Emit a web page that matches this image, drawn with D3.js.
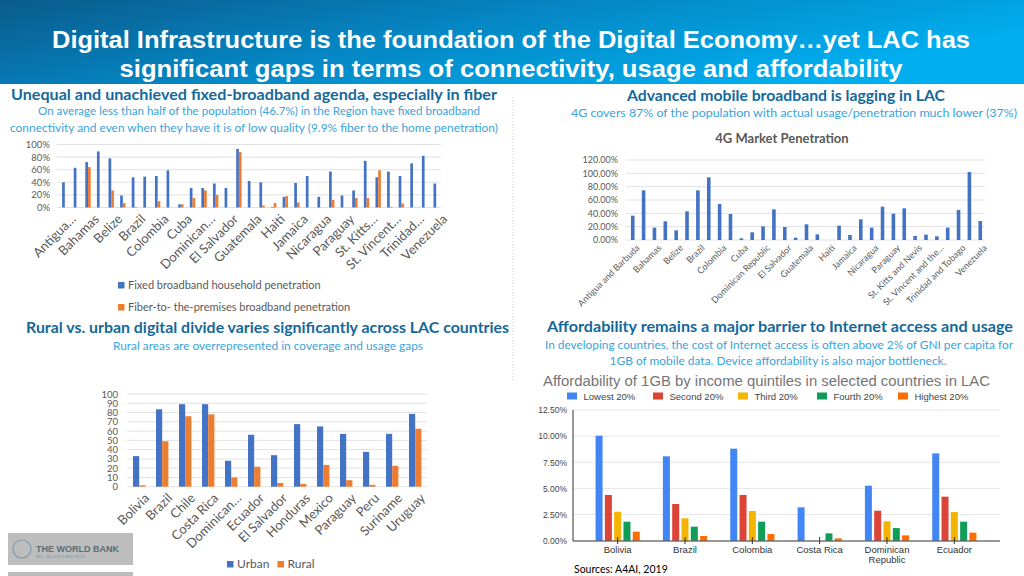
<!DOCTYPE html>
<html><head><meta charset="utf-8">
<script src="https://cdn.jsdelivr.net/npm/d3@7"></script>
<style>body{margin:0;background:#fff}svg{display:block}</style>
</head><body><svg id="c" width="1024" height="576"></svg>
<script>
// ---------- DATA ----------
const lacCountries = ["Antigua and Barbuda","Argentina","Bahamas","Barbados","Belize","Bolivia","Brazil","Chile","Colombia","Costa Rica","Cuba","Dominica","Dominican Republic","Ecuador","El Salvador","Grenada","Guatemala","Guyana","Haiti","Honduras","Jamaica","Mexico","Nicaragua","Panama","Paraguay","Peru","St. Kitts and Nevis","St. Lucia","St. Vincent and the Grenadines","Suriname","Trinidad and Tobago","Uruguay","Venezuela"];
const fixedShortLabels = ["Antigua…","","Bahamas","","Belize","","Brazil","","Colombia","","Cuba","","Dominican…","","El Salvador","","Guatemala","","Haiti","","Jamaica","","Nicaragua","","Paraguay","","St. Kitts…","","St. Vincent…","","Trinidad…","","Venezuela"];
const fixedBroadband = [40,63,72,89,78,19,48,49,50,59,5,31,31,38,31,93,42,40,1,17,39,50,17,57,19,27,74,48,57,50,70,82,38];
const fiberBroadband = [0,0,64,0,27,7,1,0,10,0,5,15,27,20,0,88,0,3,7,18,8,0,0,12,0,15,15,59,1,6,0,0,0];
const fixedTicks = [0,20,40,60,80,100];
const fixedLegend = ["Fixed broadband household penetration","Fiber-to- the-premises broadband penetration"];

const g4Labels = ["Antigua and Barbuda","","Bahamas","","Belize","","Brazil","","Colombia","","Cuba","","Dominican Republic","","El Salvador","","Guatemala","","Haiti","","Jamaica","","Nicaragua","","Paraguay","","St. Kitts and Nevis","","St. Vincent and the…","","Trinidad and Tobago","","Venezuela"];
const g4Penetration = [36.5,74.5,18.5,28,14.5,43,74.5,94,54,39,2.5,11.5,20.5,46,19.5,3.5,23.5,8.5,0,21.5,7.5,31,18.5,50,39.5,47.5,6,8,5.5,18.5,45,102,28.5];
const g4Ticks = [0,20,40,60,80,100,120];

const ruralCountries = ["Bolivia","Brazil","Chile","Costa Rica","Dominican…","Ecuador","El Salvador","Honduras","Mexico","Paraguay","Peru","Suriname","Uruguay"];
const urbanValues = [33,83.5,89,89,28,56,34,67.5,65,57,37.5,57,78.5];
const ruralValues = [1.5,49,76,78,10,21.5,4,3,23.5,7,2,22.5,62.5];
const ruralTicks = [0,10,20,30,40,50,60,70,80,90,100];

const affCountries = ["Bolivia","Brazil","Colombia","Costa Rica","Dominican Republic","Ecuador"];
const quintiles = ["Lowest 20%","Second 20%","Third 20%","Fourth 20%","Highest 20%"];
const lowest20  = [10.04,8.07,8.8,3.19,5.26,8.35];
const second20  = [4.37,3.51,4.37,0,2.87,4.21];
const third20   = [2.77,2.14,2.84,0,1.85,2.74];
const fourth20  = [1.82,1.34,1.82,0.7,1.21,1.82];
const highest20 = [0.86,0.45,0.64,0.22,0.51,0.77];
const affTicks = [0,2.5,5,7.5,10,12.5];

// ---------- DRAW ----------
const svg = d3.select("#c");
const CAL = "Lato, 'Open Sans', sans-serif";
const ARIAL = "'Liberation Sans', Arial, sans-serif";

// header
const defs = svg.append("defs");
const grad = defs.append("linearGradient").attr("id","hdr").attr("x1","0").attr("y1","0").attr("x2","1").attr("y2","0.4");
grad.append("stop").attr("offset","0").attr("stop-color","#0A5B8D");
grad.append("stop").attr("offset","0.5").attr("stop-color","#0587C4");
grad.append("stop").attr("offset","1").attr("stop-color","#00AEEF");
svg.append("rect").attr("x",0).attr("y",0).attr("width",1024).attr("height",84).attr("fill","url(#hdr)");
const titleLines = ["Digital Infrastructure is the foundation of the Digital Economy…yet LAC has","significant gaps in terms of connectivity, usage and affordability"];
const titleWidths = [918,783];
svg.selectAll("text.title").data(titleLines).join("text").attr("class","title")
  .attr("x",511).attr("y",(d,i)=>48+i*29).attr("text-anchor","middle")
  .attr("font-family",ARIAL).attr("font-weight","bold").attr("font-size",23).attr("fill","#fff")
  .attr("textLength",(d,i)=>titleWidths[i]).attr("lengthAdjust","spacingAndGlyphs").text(d=>d);

// headings
function heading(txt,cx,y,w){
  svg.append("text").attr("x",cx).attr("y",y).attr("text-anchor","middle").attr("font-family",CAL)
    .attr("font-weight","bold").attr("font-size",15).attr("fill","#15689A")
    .attr("textLength",w).attr("lengthAdjust","spacingAndGlyphs").text(txt);
}
function sub(txt,cx,y,w){
  svg.append("text").attr("x",cx).attr("y",y).attr("text-anchor","middle").attr("font-family",CAL)
    .attr("font-size",11.5).attr("fill","#3AA3DA")
    .attr("textLength",w).attr("lengthAdjust","spacingAndGlyphs").text(txt);
}
heading("Unequal and unachieved fixed-broadband agenda, especially in fiber",254,100,486);
sub("On average less than half of the population (46.7%) in the Region have fixed broadband",259,115,442);
sub("connectivity and even when they have it is of low quality (9.9% fiber to the home penetration)",254,132,488);
heading("Advanced mobile broadband is lagging in LAC",786,101,318);
sub("4G covers 87% of the population with actual usage/penetration much lower (37%)",794,117,446);
heading("Rural vs. urban digital divide varies significantly across LAC countries",267.5,333,483);
sub("Rural areas are overrepresented in coverage and usage gaps",268,350,310);
heading("Affordability remains a major barrier to Internet access and usage",780,332,466);
sub("In developing countries, the cost of Internet access is often above 2% of GNI per capita for",779,349,468);
sub("1GB of mobile data. Device affordability is also major bottleneck.",778,365,337);

// dotted separator
svg.append("line").attr("x1",513).attr("x2",513).attr("y1",97).attr("y2",380)
  .attr("stroke","#d0d0d0").attr("stroke-width",1).attr("stroke-dasharray","1,2");

const BLUE="#4472C4", ORANGE="#ED7D31", GRID="#D9D9D9", LBL="#595959";

// ---------- Chart 1: fixed broadband ----------
{
  const x = d3.scaleBand().domain(lacCountries).range([59,442]);
  const y = d3.scaleLinear().domain([0,100]).range([207.5,144.5]);
  const g = svg.append("g");
  g.selectAll("line.grid").data(fixedTicks).join("line").attr("x1",57).attr("x2",441)
    .attr("y1",d=>y(d)).attr("y2",d=>y(d)).attr("stroke",GRID).attr("stroke-width",0.8);
  const ax = g.append("g").attr("transform","translate(53,0)").call(d3.axisLeft(y).tickValues(fixedTicks).tickFormat(d=>d+"%").tickSize(0));
  ax.select(".domain").remove();
  ax.selectAll("text").attr("font-family",CAL).attr("font-size",9.5).attr("fill",LBL).attr("dx",0);
  const bw = 2.7;
  g.selectAll("rect.f").data(fixedBroadband).join("rect").attr("x",(d,i)=>x(lacCountries[i])+x.bandwidth()/2-bw)
    .attr("width",bw).attr("y",d=>y(d)).attr("height",d=>y(0)-y(d)).attr("fill",BLUE);
  g.selectAll("rect.o").data(fiberBroadband).join("rect").attr("x",(d,i)=>x(lacCountries[i])+x.bandwidth()/2)
    .attr("width",bw).attr("y",d=>y(d)).attr("height",d=>y(0)-y(d)).attr("fill",ORANGE);
  g.selectAll("text.xl").data(fixedShortLabels).join("text")
    .attr("transform",(d,i)=>`translate(${x(lacCountries[i])+x.bandwidth()/2+5},${213}) rotate(-45)`)
    .attr("text-anchor","end").attr("dy","0.75em").attr("font-family",CAL).attr("font-size",13).attr("fill",LBL).text(d=>d);
  const lg = g.selectAll("g.lg").data(fixedLegend).join("g").attr("transform",(d,i)=>`translate(118,${282+i*22})`);
  lg.append("rect").attr("width",6.5).attr("height",6.5).attr("fill",(d,i)=>i?ORANGE:BLUE);
  lg.append("text").attr("x",10).attr("y",7).attr("font-family",CAL).attr("font-size",11).attr("fill",LBL).text(d=>d);
}

// ---------- Chart 2: 4G ----------
{
  svg.append("text").attr("x",782).attr("y",143).attr("text-anchor","middle").attr("font-family",CAL)
    .attr("font-weight","bold").attr("font-size",13).attr("fill",LBL).text("4G Market Penetration");
  const x = d3.scaleBand().domain(lacCountries).range([627.3,985.7]);
  const y = d3.scaleLinear().domain([0,120]).range([240,160]);
  const g = svg.append("g");
  g.selectAll("line.grid").data(g4Ticks).join("line").attr("x1",626).attr("x2",985)
    .attr("y1",d=>y(d)).attr("y2",d=>y(d)).attr("stroke",GRID).attr("stroke-width",0.8);
  const ax = g.append("g").attr("transform","translate(621,0)").call(d3.axisLeft(y).tickValues(g4Ticks).tickFormat(d=>d.toFixed(2)+"%").tickSize(0));
  ax.select(".domain").remove();
  ax.selectAll("text").attr("font-family",CAL).attr("font-size",9).attr("fill",LBL);
  const bw = 3.6;
  g.selectAll("rect.b").data(g4Penetration).join("rect").attr("x",(d,i)=>x(lacCountries[i])+x.bandwidth()/2-bw/2)
    .attr("width",bw).attr("y",d=>y(d)).attr("height",d=>y(0)-y(d)).attr("fill",BLUE);
  g.selectAll("text.xl").data(g4Labels).join("text")
    .attr("transform",(d,i)=>`translate(${x(lacCountries[i])+x.bandwidth()/2+3},${244}) rotate(-45)`)
    .attr("text-anchor","end").attr("dy","0.7em").attr("font-family",CAL).attr("font-size",9).attr("fill",LBL).text(d=>d);
}

// ---------- Chart 3: rural vs urban ----------
{
  const x = d3.scaleBand().domain(ruralCountries).range([127.7,426.7]);
  const y = d3.scaleLinear().domain([0,100]).range([486.7,394]);
  const g = svg.append("g");
  g.selectAll("line.grid").data(ruralTicks).join("line").attr("x1",127).attr("x2",427)
    .attr("y1",d=>y(d)).attr("y2",d=>y(d)).attr("stroke",GRID).attr("stroke-width",0.8);
  const ax = g.append("g").attr("transform","translate(121,0)").call(d3.axisLeft(y).tickValues(ruralTicks).tickSize(0));
  ax.select(".domain").remove();
  ax.selectAll("text").attr("font-family",CAL).attr("font-size",9.5).attr("fill",LBL);
  const bw = 6.2;
  g.selectAll("rect.u").data(urbanValues).join("rect").attr("x",(d,i)=>x(ruralCountries[i])+x.bandwidth()/2-bw)
    .attr("width",bw).attr("y",d=>y(d)).attr("height",d=>y(0)-y(d)).attr("fill",BLUE);
  g.selectAll("rect.r").data(ruralValues).join("rect").attr("x",(d,i)=>x(ruralCountries[i])+x.bandwidth()/2)
    .attr("width",bw).attr("y",d=>y(d)).attr("height",d=>y(0)-y(d)).attr("fill",ORANGE);
  g.selectAll("text.xl").data(ruralCountries).join("text")
    .attr("transform",(d,i)=>`translate(${x(ruralCountries[i])+x.bandwidth()/2+4},${492}) rotate(-45)`)
    .attr("text-anchor","end").attr("dy","0.75em").attr("font-family",CAL).attr("font-size",13).attr("fill",LBL).text(d=>d);
  const leg = [["Urban",BLUE,227],["Rural",ORANGE,277.5]];
  leg.forEach(([t,c,lx])=>{
    g.append("rect").attr("x",lx).attr("y",561).attr("width",6.5).attr("height",6.5).attr("fill",c);
    g.append("text").attr("x",lx+10).attr("y",568).attr("font-family",CAL).attr("font-size",12).attr("fill",LBL).text(t);
  });
}

// ---------- Chart 4: affordability ----------
{
  const GC = ["#4285F4","#DB4437","#F4B400","#0F9D58","#FF6D01"];
  const series = [lowest20,second20,third20,fourth20,highest20];
  svg.append("text").attr("x",543).attr("y",386).attr("font-family",ARIAL).attr("font-size",14)
    .attr("fill","#757575").attr("textLength",447).attr("lengthAdjust","spacingAndGlyphs")
    .text("Affordability of 1GB by income quintiles in selected countries in LAC");
  const legX = [567,653,738,817,898];
  quintiles.forEach((q,i)=>{
    svg.append("rect").attr("x",legX[i]).attr("y",392.5).attr("width",10).attr("height",7).attr("fill",GC[i]);
    svg.append("text").attr("x",legX[i]+16.5).attr("y",400).attr("font-family",ARIAL).attr("font-size",9.5).attr("fill","#444").text(q);
  });
  const x = d3.scaleBand().domain(affCountries).range([584,988]);
  const y = d3.scaleLinear().domain([0,12.5]).range([540.7,410]);
  const g = svg.append("g");
  g.selectAll("line.grid").data(affTicks.slice(1)).join("line").attr("x1",573).attr("x2",1000)
    .attr("y1",d=>y(d)).attr("y2",d=>y(d)).attr("stroke","#E6E6E6").attr("stroke-width",1);
  const ax = g.append("g").attr("transform","translate(567,0)").call(d3.axisLeft(y).tickValues(affTicks).tickFormat(d=>d.toFixed(2)+"%").tickSize(0));
  ax.select(".domain").remove();
  ax.selectAll("text").attr("font-family",ARIAL).attr("font-size",8.5).attr("fill","#444").attr("x",0);
  const step = 9.3, bw = 7;
  series.forEach((s,k)=>{
    g.selectAll("rect.s"+k).data(s).join("rect").attr("x",(d,i)=>x(affCountries[i])+x.bandwidth()/2+(k-2)*step-bw/2)
      .attr("width",bw).attr("y",d=>y(d)).attr("height",d=>y(0)-y(d)).attr("fill",GC[k]);
  });
  g.append("line").attr("x1",573).attr("x2",573).attr("y1",410).attr("y2",541).attr("stroke","#333").attr("stroke-width",1);
  g.append("line").attr("x1",573).attr("x2",1000).attr("y1",541).attr("y2",541).attr("stroke","#333").attr("stroke-width",1);
  g.selectAll("line.tk").data(affCountries).join("line").attr("x1",d=>x(d)+x.bandwidth()/2).attr("x2",d=>x(d)+x.bandwidth()/2)
    .attr("y1",537).attr("y2",544).attr("stroke","#333");
  g.selectAll("text.xl").data(affCountries).join("text").attr("text-anchor","middle")
    .attr("font-family",ARIAL).attr("font-size",9.5).attr("fill","#333")
    .each(function(d){
      const t = d3.select(this); const words = d==="Dominican Republic"?["Dominican","Republic"]:[d];
      words.forEach((w,j)=>t.append("tspan").attr("x",x(d)+x.bandwidth()/2).attr("y",553+j*9.5).text(w));
    });
  svg.append("text").attr("x",574).attr("y",573).attr("font-family",CAL).attr("font-size",10.5).attr("fill","#000").text("Sources: A4AI,  2019");
}

// ---------- World Bank logo ----------
{
  svg.append("rect").attr("x",8).attr("y",533).attr("width",125).attr("height",32).attr("fill","#BDBDBD");
  svg.append("rect").attr("x",8).attr("y",572).attr("width",125).attr("height",4).attr("fill","#BDBDBD");
  svg.append("circle").attr("cx",22).attr("cy",549).attr("r",9).attr("fill","none").attr("stroke","#7E98A8").attr("stroke-width",1.2);
  svg.append("text").attr("x",36).attr("y",552).attr("font-family",ARIAL).attr("font-weight","bold").attr("font-size",9).attr("fill","#5B6B78").text("THE WORLD BANK");
  svg.append("text").attr("x",36).attr("y",558).attr("font-family",ARIAL).attr("font-size",3).attr("fill","#7E98A8").text("IBRD · IDA | WORLD BANK GROUP");
}
</script></body></html>
